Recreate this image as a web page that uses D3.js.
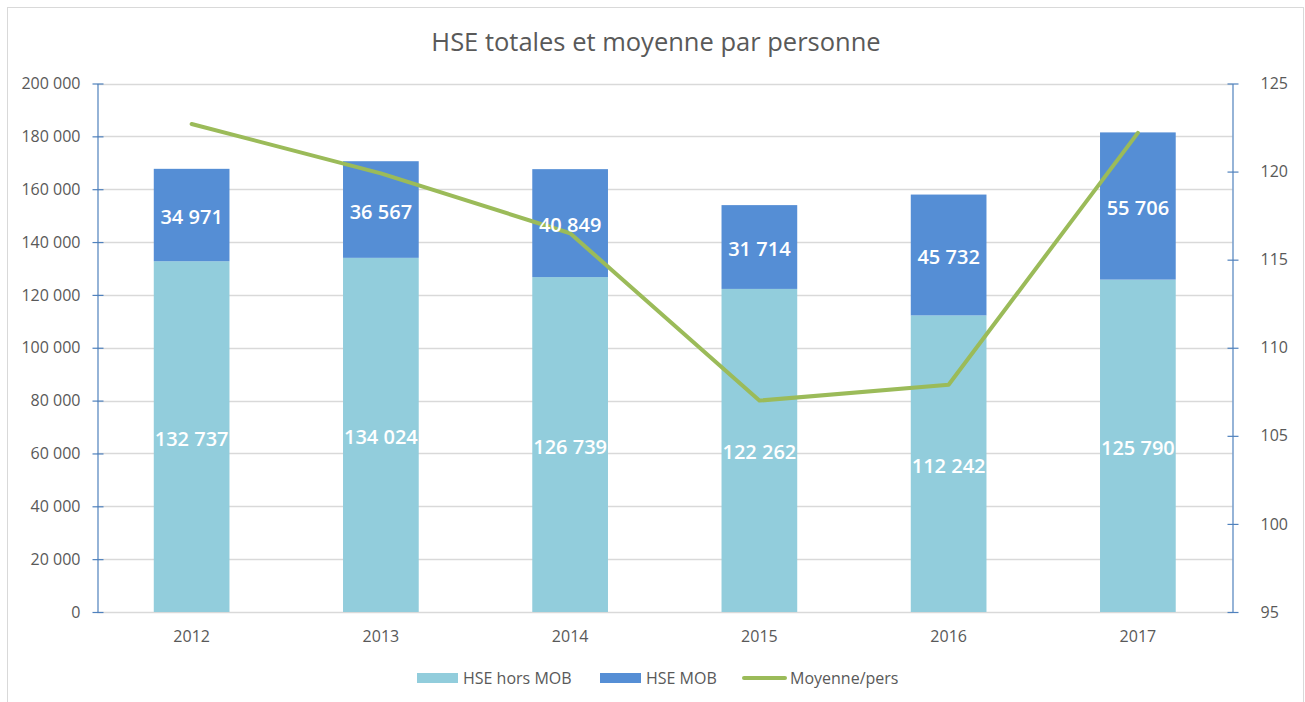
<!DOCTYPE html>
<html>
<head>
<meta charset="utf-8">
<script src="https://cdn.jsdelivr.net/npm/d3@7"></script>
<style>
  body { margin: 0; background: #fff; }
  text { font-family: "Open Sans", sans-serif; }
</style>
</head>
<body>
<div id="chart"></div>
<script>
// data
const years = ["2012", "2013", "2014", "2015", "2016", "2017"];
const horsMob = [132737, 134024, 126739, 122262, 112242, 125790];
const mob = [34971, 36567, 40849, 31714, 45732, 55706];
const moyenne = [122.7, 119.9, 116.5, 107.0, 107.9, 122.2];
const leftTicks = [0, 20000, 40000, 60000, 80000, 100000, 120000, 140000, 160000, 180000, 200000];
const rightTicks = [95, 100, 105, 110, 115, 120, 125];

const W = 1305, H = 702;

const fr = d3.formatLocale({ decimal: ",", thousands: " ", grouping: [3], currency: ["", " €"] });
const fmt = fr.format(",d");

const svg = d3.select("#chart").append("svg")
  .attr("width", W).attr("height", H);

// outer chart border
svg.append("rect")
  .attr("x", 7.5).attr("y", 7.5)
  .attr("width", 1296).attr("height", 720)
  .attr("fill", "#fff").attr("stroke", "#d9d9d9");

const x = d3.scaleBand().domain(years).range([97, 1232.5]);
const y = d3.scaleLinear().domain([0, 200000]).range([612, 83.5]);
const y2 = d3.scaleLinear().domain([95, 125]).range([612, 83.5]);

// title
svg.append("text")
  .attr("x", 656).attr("y", 51)
  .attr("text-anchor", "middle")
  .attr("font-size", 25.5)
  .attr("fill", "#595959")
  .text("HSE totales et moyenne par personne");

// gridlines
svg.append("g").selectAll("line")
  .data(leftTicks)
  .join("line")
  .attr("x1", 97).attr("x2", 1232.5)
  .attr("y1", d => Math.round(y(d)) + 0.5).attr("y2", d => Math.round(y(d)) + 0.5)
  .attr("stroke", "#d9d9d9").attr("stroke-width", 1.5);

// stacked bars
const barW = x.bandwidth() / 2.5;
const g = svg.append("g");
years.forEach((yr, i) => {
  const cx = x(yr) + x.bandwidth() / 2;
  g.append("rect")
    .attr("x", cx - barW / 2).attr("width", barW)
    .attr("y", y(horsMob[i])).attr("height", y(0) - y(horsMob[i]))
    .attr("fill", "#92cddc");
  g.append("rect")
    .attr("x", cx - barW / 2).attr("width", barW)
    .attr("y", y(horsMob[i] + mob[i])).attr("height", y(horsMob[i]) - y(horsMob[i] + mob[i]))
    .attr("fill", "#558ed5");
});

// line
const line = d3.line()
  .x((d, i) => x(years[i]) + x.bandwidth() / 2)
  .y(d => y2(d));
svg.append("path")
  .datum(moyenne)
  .attr("d", line)
  .attr("fill", "none")
  .attr("stroke", "#9bbb59")
  .attr("stroke-width", 4)
  .attr("stroke-linecap", "round")
  .attr("stroke-linejoin", "round");

// bar labels
years.forEach((yr, i) => {
  const cx = x(yr) + x.bandwidth() / 2;
  svg.append("text")
    .attr("x", cx).attr("y", (y(0) + y(horsMob[i])) / 2)
    .attr("dy", "0.45em")
    .attr("text-anchor", "middle")
    .attr("font-size", 20).attr("font-weight", 600)
    .attr("fill", "#fff")
    .text(fmt(horsMob[i]));
  svg.append("text")
    .attr("x", cx).attr("y", (y(horsMob[i]) + y(horsMob[i] + mob[i])) / 2)
    .attr("dy", "0.45em")
    .attr("text-anchor", "middle")
    .attr("font-size", 20).attr("font-weight", 600)
    .attr("fill", "#fff")
    .text(fmt(mob[i]));
});

// left axis
const axisColor = "#4f81bd";
const leftAxis = svg.append("g").attr("transform", "translate(97.5,0)")
  .call(d3.axisLeft(y).tickValues(leftTicks).tickFormat(fmt).tickSizeInner(5).tickSizeOuter(0).tickPadding(12));
leftAxis.select(".domain").attr("stroke", axisColor).attr("stroke-width", 1.2);
leftAxis.selectAll(".tick line").attr("x1", 6).attr("x2", -5).attr("stroke", axisColor).attr("stroke-width", 1.2);
leftAxis.selectAll(".tick text").attr("font-size", 16).attr("fill", "#595959").style("font-family", "Open Sans");

// right axis
const rightAxis = svg.append("g").attr("transform", "translate(1232.5,0)")
  .call(d3.axisRight(y2).tickValues(rightTicks).tickSizeInner(5).tickSizeOuter(0).tickPadding(23));
rightAxis.select(".domain").attr("stroke", axisColor).attr("stroke-width", 1.2);
rightAxis.selectAll(".tick line").attr("x1", -5).attr("x2", 6).attr("stroke", axisColor).attr("stroke-width", 1.2);
rightAxis.selectAll(".tick text").attr("font-size", 16).attr("fill", "#595959").style("font-family", "Open Sans");

// x axis labels
svg.append("g").selectAll("text")
  .data(years)
  .join("text")
  .attr("x", d => x(d) + x.bandwidth() / 2)
  .attr("y", 642)
  .attr("text-anchor", "middle")
  .attr("font-size", 16)
  .attr("fill", "#595959")
  .text(d => d);

// legend
const legend = svg.append("g");
const legItems = [
  { label: "HSE hors MOB", type: "rect", color: "#92cddc", x: 417 },
  { label: "HSE MOB", type: "rect", color: "#558ed5", x: 600 },
  { label: "Moyenne/pers", type: "line", color: "#9bbb59", x: 742 }
];
legItems.forEach(it => {
  if (it.type === "rect") {
    legend.append("rect")
      .attr("x", it.x).attr("y", 673).attr("width", 41).attr("height", 10)
      .attr("fill", it.color);
  } else {
    legend.append("line")
      .attr("x1", it.x + 2).attr("x2", it.x + 43).attr("y1", 678).attr("y2", 678)
      .attr("stroke", it.color).attr("stroke-width", 4).attr("stroke-linecap", "round");
  }
  legend.append("text")
    .attr("x", it.x + (it.type === "rect" ? 46 : 48)).attr("y", 678)
    .attr("dy", "0.35em")
    .attr("font-size", 16)
    .attr("fill", "#595959")
    .text(it.label);
});
</script>
</body>
</html>
